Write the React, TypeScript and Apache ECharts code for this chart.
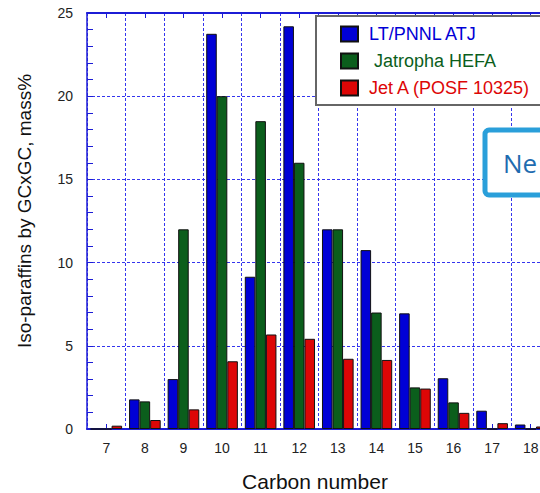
import React, { useEffect, useRef } from "react";
import * as echarts from "echarts";

const categories = ["7", "8", "9", "10", "11", "12", "13", "14", "15", "16", "17", "18"];
const atjValues = [0, 1.78, 3.0, 23.75, 9.15, 24.2, 12.0, 10.75, 6.95, 3.05, 1.1, 0.27];
const hefaValues = [0, 1.66, 12.0, 20.0, 18.5, 16.0, 12.0, 7.0, 2.5, 1.6, 0, 0];
const jetAValues = [0.2, 0.54, 1.18, 4.07, 5.68, 5.42, 4.22, 4.15, 2.43, 0.97, 0.35, 0.15];
const seriesNames = ["LT/PNNL ATJ", "Jatropha HEFA", "Jet A (POSF 10325)"];
const seriesColors = ["#0000d6", "#0b5e1c", "#dd0606"];
const yTicks = { min: 0, max: 25, interval: 5 };

const FONT = "'Liberation Sans', Arial, sans-serif";
const AXIS_BLUE = "#1c1cd6";
const GRID_BLUE = "#3535ee";

export default function App() {
  const ref = useRef<HTMLDivElement>(null);
  useEffect(() => {
    if (!ref.current) return;
    const chart = echarts.init(ref.current, undefined, { renderer: "svg" });
    const dataSets = [atjValues, hefaValues, jetAValues];
    chart.setOption({
      animation: false,
      backgroundColor: "#ffffff",
      textStyle: { fontFamily: FONT },
      grid: { left: 87, top: 13, right: 50, bottom: 64, containLabel: false },
      legend: {
        orient: "vertical",
        left: 316,
        top: 16,
        padding: [9, 16, 8, 24],
        itemWidth: 17,
        itemHeight: 15,
        itemGap: 9,
        backgroundColor: "#ffffff",
        borderColor: "#666666",
        borderWidth: 2,
        borderRadius: 0,
        icon: "rect",
        textStyle: { fontSize: 18, fontFamily: FONT, padding: [0, 0, 0, 6] },
        data: seriesNames.map((n, i) => ({
          name: n,
          textStyle: {
            color: seriesColors[i],
            fontSize: 18,
            padding: [0, 0, 0, i === 1 ? 11 : 6],
          },
        })),
      },
      xAxis: [
        {
          type: "category",
          data: categories,
          position: "bottom",
          boundaryGap: true,
          axisLine: { show: true, lineStyle: { color: AXIS_BLUE, width: 2 } },
          axisTick: { show: true, inside: true, alignWithLabel: true, length: 5, lineStyle: { color: AXIS_BLUE, width: 1 } },
          axisLabel: { color: "#222222", fontSize: 14, margin: 12, fontFamily: FONT },
          splitLine: { show: true, lineStyle: { color: GRID_BLUE, type: [3, 2], width: 1 } },
        },
        {
          type: "category",
          data: categories,
          position: "top",
          boundaryGap: true,
          axisLine: { show: true, lineStyle: { color: AXIS_BLUE, width: 2 } },
          axisTick: { show: true, inside: true, alignWithLabel: true, length: 5, lineStyle: { color: AXIS_BLUE, width: 1 } },
          axisLabel: { show: false },
          splitLine: { show: false },
        },
      ],
      yAxis: {
        type: "value",
        min: yTicks.min,
        max: yTicks.max,
        interval: yTicks.interval,
        axisLine: { show: true, lineStyle: { color: AXIS_BLUE, width: 1.5 } },
        axisTick: { show: true, inside: true, length: 6, lineStyle: { color: AXIS_BLUE } },
        minorTick: { show: true, splitNumber: 5, length: 6, lineStyle: { color: AXIS_BLUE } },
        axisLabel: { color: "#222222", fontSize: 14, margin: 14, fontFamily: FONT },
        splitLine: { show: true, lineStyle: { color: GRID_BLUE, type: [3, 2], width: 1 } },
      },
      series: seriesNames.map((n, i) => ({
        name: n,
        type: "bar",
        xAxisIndex: 0,
        data: dataSets[i],
        barGap: "0%",
        barCategoryGap: "18%",
        itemStyle: { color: seriesColors[i], borderColor: "#111111", borderWidth: 1 },
      })),
      graphic: [
        {
          type: "text",
          x: 24,
          y: 211,
          rotation: Math.PI / 2,
          style: {
            text: "Iso-paraffins by GCxGC, mass%",
            font: `19px ${FONT}`,
            fill: "#111111",
            align: "center",
            verticalAlign: "middle",
          },
        },
        {
          type: "text",
          x: 315,
          y: 481,
          style: {
            text: "Carbon number",
            font: `21px ${FONT}`,
            fill: "#111111",
            align: "center",
            verticalAlign: "middle",
          },
        },
        {
          type: "rect",
          shape: { x: 485, y: 130, width: 120, height: 65, r: 4 },
          style: { fill: "#ffffff", stroke: "#2a9fda", lineWidth: 5 },
          z: 100,
        },
        {
          type: "text",
          x: 503,
          y: 163,
          z: 101,
          style: {
            text: "Ne",
            font: `26px 'Open Sans', 'Noto Sans', sans-serif`,
            fill: "#1f6cb0",
            align: "left",
            verticalAlign: "middle",
          },
        },
      ],
    });
    return () => chart.dispose();
  }, []);
  return (
    <div style={{ position: "fixed", left: 0, top: 0, width: 540, height: 493, overflow: "hidden", background: "#fff" }}>
      <div ref={ref} style={{ width: 600, height: 493 }} />
    </div>
  );
}
